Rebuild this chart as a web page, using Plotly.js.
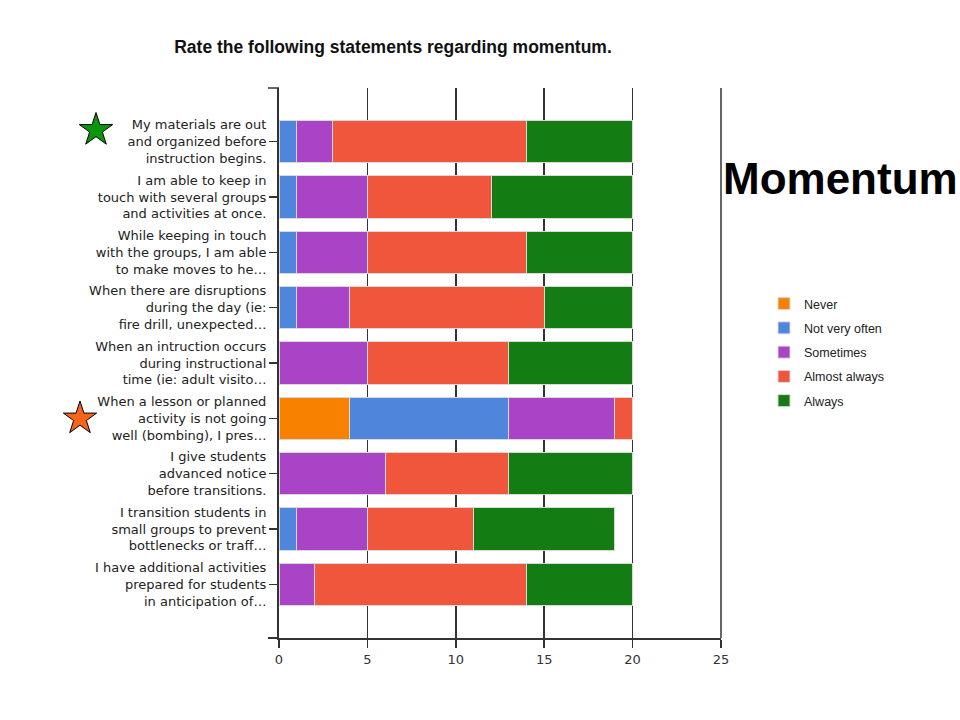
<!DOCTYPE html>
<html>
<head>
<meta charset="utf-8">
<script src="https://cdn.plot.ly/plotly-3.0.1.min.js"></script>
<style>html,body{margin:0;padding:0;background:#fff;}#chart{width:960px;height:720px;}</style>
</head>
<body>
<div id="chart"></div>
<script>
const categories = [
  "My materials are out<br>and organized before<br>instruction begins.",
  "I am able to keep in<br>touch with several groups<br>and activities at once.",
  "While keeping in touch<br>with the groups, I am able<br>to make moves to he…",
  "When there are disruptions<br>during the day (ie:<br>fire drill, unexpected…",
  "When an intruction occurs<br>during instructional<br>time (ie: adult visito…",
  "When a lesson or planned<br>activity is not going<br>well (bombing), I pres…",
  "I give students<br>advanced notice<br>before transitions.",
  "I transition students in<br>small groups to prevent<br>bottlenecks or traff…",
  "I have additional activities<br>prepared for students<br>in anticipation of…"
];
const seriesNames = ["Never", "Not very often", "Sometimes", "Almost always", "Always"];
const never        = [0, 0, 0, 0, 0, 4, 0, 0, 0];
const notVeryOften = [1, 1, 1, 1, 0, 9, 0, 1, 0];
const sometimes    = [2, 4, 4, 3, 5, 6, 6, 4, 2];
const almostAlways = [11, 7, 9, 11, 8, 1, 7, 6, 12];
const always       = [6, 8, 6, 5, 7, 0, 7, 8, 6];
const xTicks = [0, 5, 10, 15, 20, 25];

const colors = ["#f98100", "#5085dc", "#a944c6", "#f0563c", "#137d13"];
const seriesValues = [never, notVeryOften, sometimes, almostAlways, always];

const traces = seriesValues.map((vals, i) => ({
  type: "bar",
  orientation: "h",
  name: seriesNames[i],
  legendgroup: "g" + i,
  x: vals,
  y: categories,
  marker: { color: colors[i], line: { color: "#d8d8d8", width: 1 } },
  hoverinfo: "x+name"
}));

// plot area in pixels
const L = 279, R = 721, T = 88, B = 638;
const W = R - L, H = B - T;
const px2x = p => (p - L) / W;
const px2y = p => (B - p) / H;

function starPath(cx, cy, r) {
  const ri = r * 0.382;
  let d = "";
  for (let k = 0; k < 10; k++) {
    const a = -Math.PI / 2 + k * Math.PI / 5;
    const rr = k % 2 === 0 ? r : ri;
    const x = px2x(cx + rr * Math.cos(a));
    const y = px2y(cy + rr * Math.sin(a));
    d += (k === 0 ? "M" : "L") + x.toFixed(5) + "," + y.toFixed(5);
  }
  return d + "Z";
}

const layout = {
  width: 960, height: 720,
  paper_bgcolor: "#ffffff", plot_bgcolor: "#ffffff",
  barmode: "stack",
  bargap: 0.24,
  margin: { l: L, r: 960 - R, t: T, b: 720 - B, pad: 0 },
  font: { family: "DejaVu Sans, sans-serif", size: 13, color: "#222" },
  title: {
    text: "<b>Rate the following statements regarding momentum.</b>",
    font: { family: "Liberation Sans, Arial, sans-serif", size: 17.5, color: "#111" },
    xref: "container", yref: "container",
    x: 393 / 960, xanchor: "center",
    y: 1 - 47 / 720, yanchor: "middle"
  },
  xaxis: {
    range: [0, 25],
    tickvals: xTicks,
    ticks: "outside", ticklen: 8, tickwidth: 1.5, tickcolor: "#333",
    showgrid: true, gridcolor: "#333", gridwidth: 1.5,
    zeroline: false,
    showline: true, linecolor: "#333", linewidth: 2,
    tickfont: { family: "DejaVu Sans, sans-serif", size: 13, color: "#333" },
    fixedrange: true
  },
  yaxis: {
    type: "category",
    range: [8.97, -0.97],
    ticks: "outside", ticklen: 8, tickwidth: 1.5, tickcolor: "#333",
    showgrid: false, zeroline: false,
    showline: true, linecolor: "#333", linewidth: 2,
    tickfont: { family: "DejaVu Sans, sans-serif", size: 13, color: "#222" },
    fixedrange: true
  },
  legend: {
    x: px2x(764), xanchor: "left",
    y: px2y(289), yanchor: "top",
    traceorder: "grouped",
    tracegroupgap: 5,
    itemwidth: 30,
    font: { family: "Liberation Sans, Arial, sans-serif", size: 12.5, color: "#222" },
    bgcolor: "rgba(0,0,0,0)"
  },
  shapes: [
    { type: "line", xref: "paper", yref: "paper", x0: px2x(268), x1: 0, y0: 1, y1: 1, line: { color: "#333", width: 1.5 } },
    { type: "line", xref: "paper", yref: "paper", x0: px2x(268), x1: 0, y0: 0, y1: 0, line: { color: "#333", width: 2 } },
    { type: "line", xref: "paper", yref: "paper", x0: 1, x1: 1, y0: 0, y1: 1, line: { color: "#333", width: 1.5 } },
    { type: "path", xref: "paper", yref: "paper", path: starPath(96, 130, 17.5), fillcolor: "#0a960a", line: { color: "#000", width: 1 } },
    { type: "path", xref: "paper", yref: "paper", path: starPath(80, 418.5, 17.5), fillcolor: "#f5661c", line: { color: "#000", width: 1 } }
  ],
  annotations: [
    {
      text: "<b>Momentum</b>", xref: "paper", yref: "paper",
      x: px2x(840), y: px2y(178), xanchor: "center", yanchor: "middle",
      showarrow: false,
      font: { family: "Liberation Sans, Arial, sans-serif", size: 44, color: "#000" }
    }
  ],
  showlegend: true
};

Plotly.newPlot("chart", traces, layout, { displayModeBar: false, staticPlot: true });
</script>
</body>
</html>
